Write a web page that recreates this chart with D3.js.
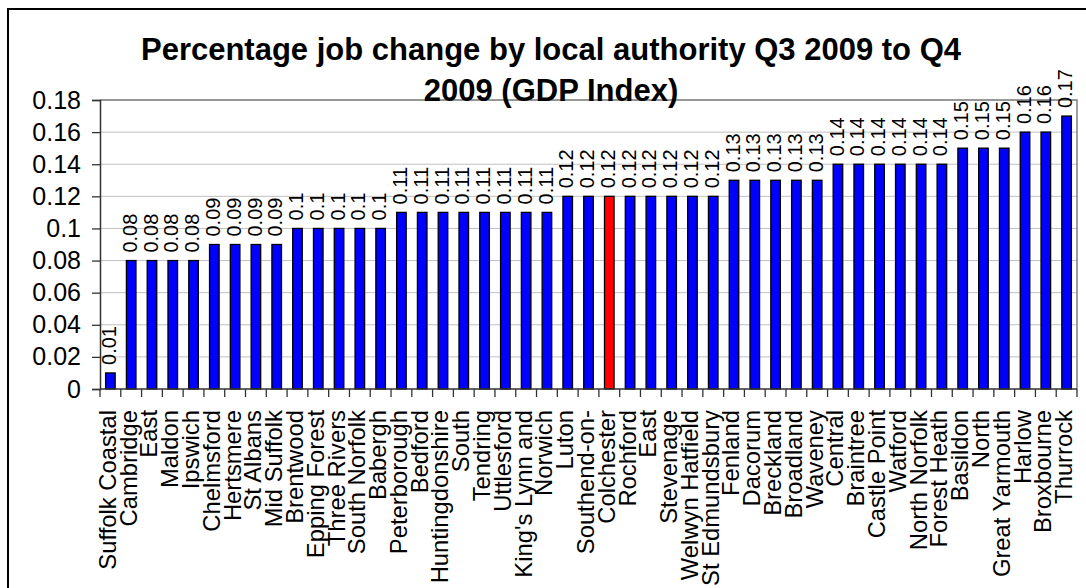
<!DOCTYPE html>
<html>
<head>
<meta charset="utf-8">
<script src="https://cdn.jsdelivr.net/npm/d3@7"></script>
<style>
  html, body { margin: 0; padding: 0; background: #fff; }
  svg { display: block; font-family: "Liberation Sans", Arial, sans-serif; }
</style>
</head>
<body>
<svg id="chart" width="1086" height="588"></svg>
<script>
// Local authorities, ordered by job change
const categories = [
  "Suffolk Coastal", "Cambridge", "East", "Maldon", "Ipswich", "Chelmsford",
  "Hertsmere", "St Albans", "Mid Suffolk", "Brentwood", "Epping Forest",
  "Three Rivers", "South Norfolk", "Babergh", "Peterborough", "Bedford",
  "Huntingdonshire", "South", "Tendring", "Uttlesford", "King's Lynn and",
  "Norwich", "Luton", "Southend-on-", "Colchester", "Rochford", "East",
  "Stevenage", "Welwyn Hatfield", "St Edmundsbury", "Fenland", "Dacorum",
  "Breckland", "Broadland", "Waveney", "Central", "Braintree", "Castle Point",
  "Watford", "North Norfolk", "Forest Heath", "Basildon", "North",
  "Great Yarmouth", "Harlow", "Broxbourne", "Thurrock"
];

// Percentage job change, Q3 2009 to Q4 2009
const values = [
  0.01, 0.08, 0.08, 0.08, 0.08, 0.09,
  0.09, 0.09, 0.09, 0.1, 0.1,
  0.1, 0.1, 0.1, 0.11, 0.11,
  0.11, 0.11, 0.11, 0.11, 0.11,
  0.11, 0.12, 0.12, 0.12, 0.12, 0.12,
  0.12, 0.12, 0.12, 0.13, 0.13,
  0.13, 0.13, 0.13, 0.14, 0.14, 0.14,
  0.14, 0.14, 0.14, 0.15, 0.15,
  0.15, 0.16, 0.16, 0.17
];

// Highlighted authority
const highlightIndex = [24];

const yTicks = [0, 0.02, 0.04, 0.06, 0.08, 0.1, 0.12, 0.14, 0.16, 0.18];

const titleLines = [
  "Percentage job change by local authority Q3 2009 to Q4",
  "2009 (GDP Index)"
];

const fmt = v => String(+v.toFixed(2));

const svg = d3.select("#chart");
const W = 1086, H = 588;
const plot = { left: 100, right: 1077, top: 100, bottom: 389 };

// outer chart frame (extends past the page edge on right and bottom)
svg.append("rect")
  .attr("x", 8).attr("y", 9)
  .attr("width", W + 20).attr("height", H + 20)
  .attr("fill", "#fff").attr("stroke", "#000").attr("stroke-width", 2);

const idx = d3.range(categories.length);
const x = d3.scaleBand().domain(idx).range([plot.left, plot.right]).padding(0);
const y = d3.scaleLinear().domain([0, 0.18]).range([plot.bottom, plot.top]);

// gridlines
svg.append("g")
  .selectAll("line")
  .data(yTicks.filter(t => t > 0))
  .join("line")
  .attr("x1", plot.left).attr("x2", plot.right)
  .attr("y1", d => y(d)).attr("y2", d => y(d))
  .attr("stroke", "#c0c0c0").attr("stroke-width", 1);

// plot area border (top and right)
svg.append("path")
  .attr("d", `M${plot.left},${plot.top}H${plot.right}V${plot.bottom}`)
  .attr("fill", "none").attr("stroke", "#808080").attr("stroke-width", 1.5);

// bars
const bw = x.bandwidth() * 0.46;
svg.append("g")
  .selectAll("rect")
  .data(idx)
  .join("rect")
  .attr("x", i => x(i) + (x.bandwidth() - bw) / 2)
  .attr("y", i => y(values[i]))
  .attr("width", bw)
  .attr("height", i => y(0) - y(values[i]))
  .attr("fill", i => highlightIndex.includes(i) ? "#ff0000" : "#0000ff")
  .attr("stroke", "#000").attr("stroke-width", 1.3);

// value labels
svg.append("g")
  .selectAll("text")
  .data(idx)
  .join("text")
  .attr("transform", i => `translate(${x(i) + x.bandwidth() / 2},${y(values[i]) - 8}) rotate(-90)`)
  .attr("dy", "0.28em")
  .attr("text-anchor", "start")
  .attr("font-size", 20)
  .attr("fill", "#000")
  .text(i => fmt(values[i]));

// y axis
const yAxis = d3.axisLeft(y).tickValues(yTicks).tickSize(8).tickPadding(11).tickFormat(fmt);
const gy = svg.append("g").attr("transform", `translate(${plot.left},0)`).call(yAxis);
gy.select(".domain").attr("stroke", "#333").attr("stroke-width", 1.5);
gy.selectAll(".tick line").attr("stroke", "#333").attr("stroke-width", 1.3);
gy.selectAll(".tick text").attr("font-size", 25).attr("fill", "#000")
  .attr("font-family", "Liberation Sans, Arial, sans-serif");

// x axis line with ticks at category boundaries
svg.append("line")
  .attr("x1", plot.left).attr("x2", plot.right)
  .attr("y1", plot.bottom).attr("y2", plot.bottom)
  .attr("stroke", "#333").attr("stroke-width", 1.5);
svg.append("g")
  .selectAll("line")
  .data(d3.range(categories.length + 1))
  .join("line")
  .attr("x1", i => i < categories.length ? x(i) : plot.right)
  .attr("x2", i => i < categories.length ? x(i) : plot.right)
  .attr("y1", plot.bottom).attr("y2", plot.bottom + 8)
  .attr("stroke", "#333").attr("stroke-width", 1.3);

// category labels
svg.append("g")
  .selectAll("text")
  .data(idx)
  .join("text")
  .attr("transform", i => `translate(${x(i) + x.bandwidth() / 2},${plot.bottom + 21}) rotate(-90)`)
  .attr("dy", "0.23em")
  .attr("text-anchor", "end")
  .attr("font-size", 23.8)
  .attr("fill", "#000")
  .text(i => categories[i]);

// title
svg.append("g")
  .selectAll("text")
  .data(titleLines)
  .join("text")
  .attr("x", 551)
  .attr("y", (d, i) => 60 + i * 41)
  .attr("text-anchor", "middle")
  .attr("font-size", 31)
  .attr("font-weight", "bold")
  .attr("fill", "#000")
  .text(d => d);
</script>
</body>
</html>
